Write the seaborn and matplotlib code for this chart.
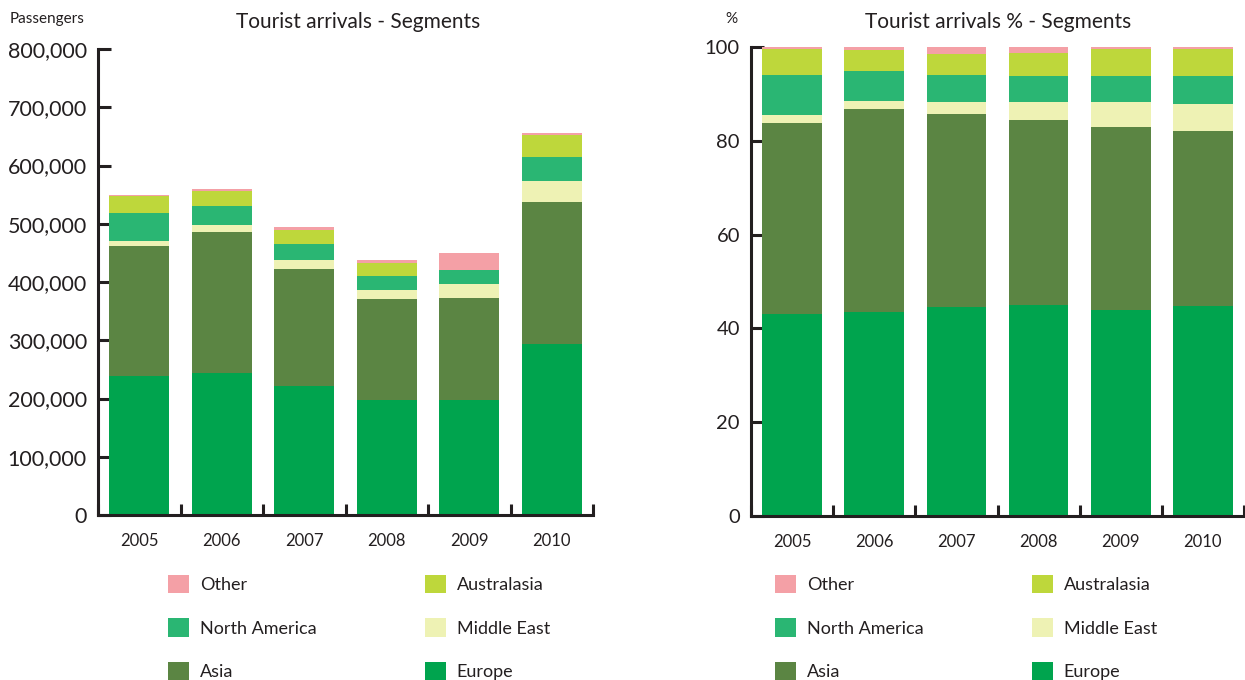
import numpy as np
import matplotlib
matplotlib.use("Agg")
import matplotlib.pyplot as plt
from matplotlib.patches import Patch
from matplotlib.ticker import FuncFormatter, FixedLocator
import seaborn as sns

years = ['2005', '2006', '2007', '2008', '2009', '2010']
segments = ['Europe', 'Asia', 'Middle East', 'North America', 'Australasia', 'Other']

# passengers per segment
europe = [238000, 243000, 221000, 197000, 197000, 293000]
asia = [223000, 242000, 202000, 173000, 175000, 245000]
middle_east = [10000, 12000, 14000, 17000, 24000, 36000]
north_america = [47000, 34000, 29000, 24000, 24000, 41000]
australasia = [29000, 26000, 23000, 22000, 0, 38000]
other = [3000, 3000, 6000, 5000, 29000, 2000]

# shares in %
europe_pct = [43.1, 43.4, 44.5, 45.0, 43.9, 44.7]
asia_pct = [40.7, 43.3, 41.2, 39.4, 39.0, 37.4]
middle_east_pct = [1.7, 1.8, 2.5, 3.8, 5.3, 5.7]
north_america_pct = [8.5, 6.4, 5.8, 5.6, 5.6, 6.0]
australasia_pct = [5.6, 4.4, 4.5, 5.0, 5.8, 5.8]
other_pct = [0.4, 0.7, 1.5, 1.2, 0.4, 0.4]

colors = {'Europe': '#00a44e', 'Asia': '#5b8543', 'Middle East': '#eef2b4',
          'North America': '#2ab673', 'Australasia': '#bed73b', 'Other': '#f4a0a6'}

sns.set_style('white')
plt.rcParams['font.family'] = ['Lato', 'DejaVu Sans']
ink = '#231f20'

fig = plt.figure(figsize=(12.45, 6.8), dpi=100)
ax1 = fig.add_axes([98 / 1245, 1 - 515 / 680, 495 / 1245, 466 / 680])
ax2 = fig.add_axes([751 / 1245, 1 - 516 / 680, 493 / 1245, 469 / 680])


def stacked(ax, layers):
    # draw cumulative totals from the top down so each layer sits on the one below
    cum = np.cumsum(np.array([layers[s] for s in segments], dtype=float), axis=0)
    for i in range(len(segments) - 1, -1, -1):
        sns.barplot(x=years, y=cum[i], color=colors[segments[i]], width=0.725,
                    saturation=1, ax=ax, edgecolor='none', linewidth=0)


stacked(ax1, {'Europe': europe, 'Asia': asia, 'Middle East': middle_east,
              'North America': north_america, 'Australasia': australasia, 'Other': other})
stacked(ax2, {'Europe': europe_pct, 'Asia': asia_pct, 'Middle East': middle_east_pct,
              'North America': north_america_pct, 'Australasia': australasia_pct,
              'Other': other_pct})

for ax, top, step in [(ax1, 800000, 100000), (ax2, 100, 20)]:
    ax.set_xlim(-0.5, 5.5)
    ax.set_ylim(0, top)
    ax.set_yticks(np.arange(0, top + 1, step))
    ax.set_xlabel('')
    ax.set_ylabel('')
    for s in ['top', 'right']:
        ax.spines[s].set_visible(False)
    for s in ['left', 'bottom']:
        ax.spines[s].set_color(ink)
        ax.spines[s].set_linewidth(2.2)
    ax.xaxis.set_minor_locator(FixedLocator(np.arange(-0.5, 5.6, 1)))
    ax.tick_params(axis='x', which='major', length=0, pad=13, labelsize=12, colors=ink)
    ax.tick_params(axis='x', which='minor', direction='in', length=8, width=2.2,
                   color=ink, bottom=True)
    ax.tick_params(axis='y', direction='in', length=9, width=2.2, color=ink,
                   labelcolor=ink, pad=8, left=True)
    ax.patch.set_alpha(0)

ax1.yaxis.set_major_formatter(FuncFormatter(lambda v, p: f'{int(v):,}'))
ax1.tick_params(axis='y', labelsize=15.5)
ax2.tick_params(axis='y', labelsize=14.5)

fig.text(10 / 1245, 1 - 19 / 680, 'Passengers', fontsize=11, color=ink,
         ha='left', va='center')
fig.text(358 / 1245, 1 - 22 / 680, 'Tourist arrivals - Segments', fontsize=15,
         color=ink, ha='center', va='center')
fig.text(731 / 1245, 1 - 19 / 680, '%', fontsize=11, color=ink, ha='center', va='center')
fig.text(998 / 1245, 1 - 22 / 680, 'Tourist arrivals % - Segments', fontsize=15,
         color=ink, ha='center', va='center')

order = ['Other', 'North America', 'Asia', 'Australasia', 'Middle East', 'Europe']
handles = [Patch(facecolor=colors[s], edgecolor='none', label=s) for s in order]
for ax, x0 in [(ax1, 168), (ax2, 775)]:
    leg = ax.legend(handles=handles, loc='upper left', ncol=2, frameon=False,
                    bbox_to_anchor=(x0 / 1245, 1 - 575 / 680),
                    bbox_transform=fig.transFigure, fontsize=13,
                    handlelength=1.17, handleheight=1.17, handletextpad=0.6,
                    labelspacing=1.4, columnspacing=6.0, borderpad=0, borderaxespad=0)
    for t in leg.get_texts():
        t.set_color(ink)

fig.savefig('out.png', dpi=100)
